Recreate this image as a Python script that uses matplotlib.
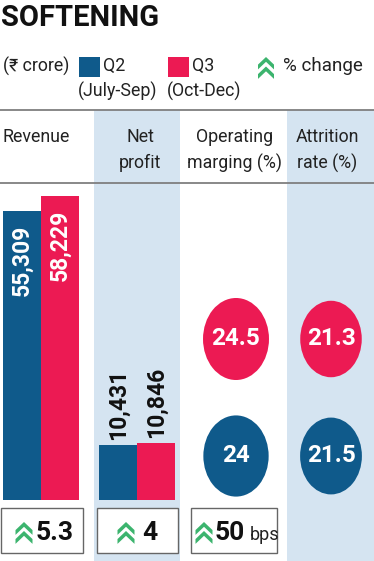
import matplotlib
matplotlib.use("Agg")
import matplotlib.pyplot as plt
from matplotlib.patches import Rectangle, Ellipse, Polygon
import numpy as np

# ---------------- data ----------------
title = "SOFTENING"
unit_label = "(₹ crore)"
series_names = ["Q2", "Q3"]
series_periods = ["(July-Sep)", "(Oct-Dec)"]
change_label = "% change"

bar_categories = ["Revenue", "Net\nprofit"]
bar_q2 = [55309, 10431]
bar_q3 = [58229, 10846]

bubble_categories = ["Operating\nmarging (%)", "Attrition\nrate (%)"]
bubble_q2 = [24, 21.5]
bubble_q3 = [24.5, 21.3]

change_values = ["5.3", "4", "50"]
change_units = ["", "", "bps"]

# ---------------- style ----------------
BLUE = "#0f5a8b"
PINK = "#ec1a53"
GREEN = "#3cb46e"
SHADE = "#d5e4f1"
LINE = "#7f7f7f"
W, H = 374, 561
TXT = ["Roboto", "DejaVu Sans"]
NUM = ["Liberation Sans Narrow", "Roboto", "DejaVu Sans"]

fig = plt.figure(figsize=(W / 100, H / 100), dpi=100)
fig.patch.set_facecolor("white")

def frac(x0, y0, x1, y1):
    return [x0 / W, 1 - y1 / H, (x1 - x0) / W, (y1 - y0) / H]

# background / decoration axes in pixel units
bg = fig.add_axes([0, 0, 1, 1])
bg.set_xlim(0, W)
bg.set_ylim(H, 0)
bg.axis("off")

def chevrons(ax, cx, top, w=17, t=4.8, gap=9.0):
    for k in range(2):
        y0 = top + k * gap
        d = w * 0.5 * 0.95
        pts = [(cx, y0), (cx + w / 2, y0 + d), (cx + w / 2, y0 + d + t),
               (cx, y0 + t), (cx - w / 2, y0 + d + t), (cx - w / 2, y0 + d)]
        ax.add_patch(Polygon(pts, closed=True, facecolor=GREEN, edgecolor="none", zorder=5))

# shaded columns
for x0, x1 in [(94, 180), (287, 374)]:
    bg.add_patch(Rectangle((x0, 110), x1 - x0, H - 110, facecolor=SHADE, edgecolor="none", zorder=0))

# rules
for y in (110, 183):
    bg.plot([0, W], [y, y], color=LINE, lw=1.3, zorder=1)

# title
bg.text(1, 18, title, family=TXT, fontweight="bold", fontsize=21, va="center", ha="left", color="#111111")

# legend
bg.text(3, 66, unit_label, family=TXT, fontsize=12.8, va="center", ha="left", color="#222222")
for i, (nm, per, col, sx) in enumerate(zip(series_names, series_periods, [BLUE, PINK], [79, 168])):
    bg.add_patch(Rectangle((sx, 57), 21, 20, facecolor=col, edgecolor="none"))
    bg.text(sx + 24, 66, nm, family=TXT, fontsize=12.8, va="center", ha="left", color="#222222")
    bg.text(sx - 1, 91, per, family=TXT, fontsize=12.8, va="center", ha="left", color="#222222")
chevrons(bg, 266, 57, w=16, gap=9.5)
bg.text(283, 66, change_label, family=TXT, fontsize=13.5, va="center", ha="left", color="#222222")

# column headers
headers = bar_categories + bubble_categories
hx = [3, 140, 235, 327]
for i, (lab, x) in enumerate(zip(headers, hx)):
    for j, line in enumerate(lab.split("\n")):
        bg.text(x, 137 + 26 * j, line, family=TXT, fontsize=12.8, va="center",
                ha="left" if i == 0 else "center", color="#222222")

# change boxes
boxes = [(1, 83), (97, 178), (191, 277)]
chev_x = [24, 126, 204]
num_x = [36, 142, 215]
for (x0, x1), cx, nx, val, unit in zip(boxes, chev_x, num_x, change_values, change_units):
    bg.add_patch(Rectangle((x0, 508), x1 - x0, 45, facecolor="white", edgecolor="#666666", lw=1.0, zorder=3))
    chevrons(bg, cx, 522)
    t = bg.text(nx, 533, val, family=NUM, fontweight="bold", fontsize=19, va="center", ha="left",
                color="#111111", zorder=6)
    if unit:
        bg.annotate(unit, xy=(1, 0), xycoords=t, xytext=(3, 0.5), textcoords="offset points",
                    family=TXT, fontsize=13, va="bottom", ha="left", color="#222222", zorder=6)

# ---------------- bars ----------------
axb = fig.add_axes(frac(0, 184, 180, 500))
axb.set_facecolor("none")
axb.axis("off")
grp = np.arange(len(bar_q2))
bw = 38 / 96
axb.set_xlim(-41 / 96, 1 + 43 / 96)
axb.set_ylim(0, 60480)
b2 = axb.bar(grp - bw / 2, bar_q2, width=bw, color=BLUE, edgecolor="none")
b3 = axb.bar(grp + bw / 2, bar_q3, width=bw, color=PINK, edgecolor="none")
for bars, vals in [(b2, bar_q2), (b3, bar_q3)]:
    for rect, v in zip(bars, vals):
        xc = rect.get_x() + rect.get_width() / 2
        lab = f"{v:,}"
        if v > 30000:
            axb.annotate(lab, xy=(xc, v), xytext=(0, -10), textcoords="offset points",
                         rotation=90, ha="center", va="top", color="white",
                         family=TXT, fontweight="bold", fontsize=16.5)
        else:
            axb.annotate(lab, xy=(xc, v), xytext=(0, 4), textcoords="offset points",
                         rotation=90, ha="center", va="bottom", color="#111111",
                         family=TXT, fontweight="bold", fontsize=16.5)

# ---------------- bubbles ----------------
axc = fig.add_axes(frac(180, 184, 374, 500))
axc.set_facecolor("none")
axc.axis("off")
axc.set_xlim(-56 / 95, 1 + 43 / 95)
axc.set_ylim(0, 1)
cw = 13.33 / 95
ch = 16.57 / 316
row_y = {"q3": (500 - 339) / 316, "q2": (500 - 456) / 316}
for i in range(len(bubble_q2)):
    for vals, col, key in [(bubble_q3, PINK, "q3"), (bubble_q2, BLUE, "q2")]:
        v = vals[i]
        axc.add_patch(Ellipse((i, row_y[key]), cw * np.sqrt(v), ch * np.sqrt(v),
                              facecolor=col, edgecolor="none"))
        axc.text(i, row_y[key], f"{v:g}", ha="center", va="center", color="white",
                 family=NUM, fontweight="bold", fontsize=17.5)

fig.savefig("out.png", dpi=100)
